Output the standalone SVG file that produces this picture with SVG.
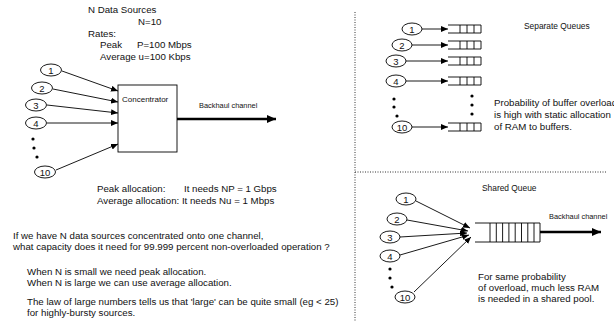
<svg xmlns="http://www.w3.org/2000/svg" width="614" height="324" viewBox="0 0 614 324">
<style>
text{font-family:"Liberation Sans",Arial,sans-serif;fill:#111;}
.t{font-size:9.7px;}
.s{font-size:8px;}
.b{font-size:7.4px;}
.h{font-size:8.4px;}
.n{font-size:9.5px;text-anchor:middle;}
.c{fill:#fff;stroke:#000;stroke-width:0.9;}
.ln{stroke:#000;stroke-width:0.9;fill:none;}
.thick{stroke:#000;stroke-width:2.6;fill:none;}
.q{stroke:#000;stroke-width:0.9;fill:#fff;}
.dot{fill:#000;}
.sep{stroke:#333;stroke-width:1;stroke-dasharray:1 1.5;fill:none;}
</style>
<defs>
<marker id="a" markerUnits="userSpaceOnUse" markerWidth="8" markerHeight="6" refX="7" refY="3" orient="auto"><path d="M0,0 L7,3 L0,6 z" fill="#000"/></marker>
<marker id="A" markerUnits="userSpaceOnUse" markerWidth="10" markerHeight="8" refX="9" refY="4" orient="auto"><path d="M0,0 L9,4 L0,8 z" fill="#000"/></marker>
</defs>

<g id="separators">
<line class="sep" x1="355" y1="12" x2="355" y2="322"/>
<line class="sep" x1="355" y1="172" x2="606" y2="172"/>
</g>

<g id="header">
<text class="t" x="88" y="13">N Data Sources</text>
<text class="t" x="138" y="25">N=10</text>
<text class="t" x="88" y="37">Rates:</text>
<text class="t" x="100" y="48">Peak</text>
<text class="t" x="137" y="48">P=100 Mbps</text>
<text class="t" x="100" y="60">Average u=100 Kbps</text>
</g>

<g id="connectors">
<line class="ln" x1="62" y1="71" x2="118" y2="91" marker-end="url(#a)"/>
<line class="ln" x1="53" y1="89" x2="118" y2="102" marker-end="url(#a)"/>
<line class="ln" x1="47" y1="105" x2="118" y2="113" marker-end="url(#a)"/>
<line class="ln" x1="47" y1="123" x2="118" y2="123" marker-end="url(#a)"/>
<line class="ln" x1="56" y1="170" x2="118" y2="144" marker-end="url(#a)"/>
<line class="thick" x1="177" y1="119" x2="276" y2="119" marker-end="url(#A)"/>

<line class="ln" x1="422" y1="29" x2="448" y2="29" marker-end="url(#a)"/>
<line class="ln" x1="412" y1="45" x2="448" y2="45" marker-end="url(#a)"/>
<line class="ln" x1="406" y1="61" x2="448" y2="61" marker-end="url(#a)"/>
<line class="ln" x1="406" y1="81" x2="448" y2="81" marker-end="url(#a)"/>
<line class="ln" x1="412" y1="127" x2="448" y2="127" marker-end="url(#a)"/>

<line class="ln" x1="416" y1="201" x2="470" y2="228" marker-end="url(#a)"/>
<line class="ln" x1="407" y1="220" x2="468" y2="231" marker-end="url(#a)"/>
<line class="ln" x1="400" y1="237" x2="467" y2="233" marker-end="url(#a)"/>
<line class="ln" x1="400" y1="255" x2="469" y2="235" marker-end="url(#a)"/>
<line class="ln" x1="414" y1="292" x2="471" y2="237" marker-end="url(#a)"/>
<line class="thick" x1="540" y1="232" x2="601" y2="232" marker-end="url(#A)"/>
</g>

<g id="src1"><ellipse class="c" cx="51" cy="70" rx="10.5" ry="6"/><text class="n" x="51" y="73.5">1</text></g>
<g id="src2"><ellipse class="c" cx="42" cy="88" rx="10.5" ry="6"/><text class="n" x="42" y="91.5">2</text></g>
<g id="src3"><ellipse class="c" cx="36" cy="105" rx="10.5" ry="6"/><text class="n" x="36" y="108.5">3</text></g>
<g id="src4"><ellipse class="c" cx="36" cy="123" rx="10.5" ry="6"/><text class="n" x="36" y="126.5">4</text></g>
<g id="dots1"><circle class="dot" cx="33" cy="139" r="1.6"/><circle class="dot" cx="34" cy="148" r="1.6"/><circle class="dot" cx="37" cy="157" r="1.6"/></g>
<g id="src10"><ellipse class="c" cx="45" cy="172" rx="10.5" ry="6"/><text class="n" x="45" y="175.5">10</text></g>

<g id="concentrator">
<rect class="q" x="118" y="85" width="59" height="67"/>
<text class="s" x="122" y="102">Concentrator</text>
</g>
<text class="b" x="199" y="108">Backhaul channel</text>

<g id="alloc">
<text class="t" x="97" y="192">Peak allocation:</text>
<text class="t" x="184" y="192">It needs NP = 1 Gbps</text>
<text class="t" x="97" y="204">Average allocation: It needs Nu = 1 Mbps</text>
</g>

<g id="question">
<text class="t" x="13" y="239">If we have N data sources concentrated onto one channel,</text>
<text class="t" x="13" y="250">what capacity does it need for 99.999 percent non-overloaded operation ?</text>
<text class="t" x="27" y="275">When N is small we need peak allocation.</text>
<text class="t" x="27" y="286">When N is large we can use average allocation.</text>
<text class="t" x="27" y="305">The law of large numbers tells us that 'large' can be quite small (eg &lt; 25)</text>
<text class="t" x="27" y="316">for highly-bursty sources.</text>
</g>

<g id="sq-src1"><ellipse class="c" cx="412" cy="29" rx="10" ry="6"/><text class="n" x="412" y="32.5">1</text></g>
<g id="sq-src2"><ellipse class="c" cx="402" cy="45" rx="10" ry="6"/><text class="n" x="402" y="48.5">2</text></g>
<g id="sq-src3"><ellipse class="c" cx="396" cy="61" rx="10" ry="6"/><text class="n" x="396" y="64.5">3</text></g>
<g id="sq-src4"><ellipse class="c" cx="396" cy="81" rx="10" ry="6"/><text class="n" x="396" y="84.5">4</text></g>
<g id="sq-dots"><circle class="dot" cx="394" cy="99" r="1.6"/><circle class="dot" cx="394" cy="107" r="1.6"/><circle class="dot" cx="397" cy="116" r="1.6"/></g>
<g id="sq-src10"><ellipse class="c" cx="402" cy="127" rx="10" ry="6"/><text class="n" x="402" y="130.5">10</text></g>

<g id="queues">
<path class="ln" d="M448,25 H481 V33 H448 M460,25 V33 M467,25 V33 M474,25 V33"/>
<path class="ln" d="M448,41 H481 V49 H448 M460,41 V49 M467,41 V49 M474,41 V49"/>
<path class="ln" d="M448,57 H481 V65 H448 M460,57 V65 M467,57 V65 M474,57 V65"/>
<path class="ln" d="M448,77 H481 V85 H448 M460,77 V85 M467,77 V85 M474,77 V85"/>
<path class="ln" d="M448,123 H481 V131 H448 M460,123 V131 M467,123 V131 M474,123 V131"/>
<circle class="dot" cx="472" cy="96" r="1.6"/><circle class="dot" cx="472" cy="105" r="1.6"/><circle class="dot" cx="472" cy="114" r="1.6"/>
</g>
<text class="h" x="524" y="29">Separate Queues</text>
<g id="sq-note">
<text class="t" x="494" y="106">Probability of buffer overload</text>
<text class="t" x="494" y="118">is high with static allocation</text>
<text class="t" x="494" y="130">of RAM to buffers.</text>
</g>

<text class="h" x="482" y="191">Shared Queue</text>
<g id="sh-src1"><ellipse class="c" cx="406" cy="199" rx="10" ry="6"/><text class="n" x="406" y="202.5">1</text></g>
<g id="sh-src2"><ellipse class="c" cx="397" cy="219" rx="10" ry="6"/><text class="n" x="397" y="222.5">2</text></g>
<g id="sh-src3"><ellipse class="c" cx="390" cy="237" rx="10" ry="6"/><text class="n" x="390" y="240.5">3</text></g>
<g id="sh-src4"><ellipse class="c" cx="390" cy="256" rx="10" ry="6"/><text class="n" x="390" y="259.5">4</text></g>
<g id="sh-dots"><circle class="dot" cx="390" cy="269" r="1.6"/><circle class="dot" cx="390" cy="278" r="1.6"/><circle class="dot" cx="392" cy="287" r="1.6"/></g>
<g id="sh-src10"><ellipse class="c" cx="405" cy="297" rx="10" ry="6"/><text class="n" x="405" y="300.5">10</text></g>
<g id="shared-queue">
<path class="ln" d="M475,223 H540 V242 H475 M490,223 V242 M496.3,223 V242 M502.6,223 V242 M508.9,223 V242 M515.2,223 V242 M521.5,223 V242 M527.8,223 V242 M534,223 V242"/>
</g>
<text class="b" x="549" y="219">Backhaul channel</text>
<g id="sh-note">
<text class="t" x="478" y="280">For same probability</text>
<text class="t" x="478" y="291">of overload, much less RAM</text>
<text class="t" x="478" y="302">is needed in a shared pool.</text>
</g>
</svg>
